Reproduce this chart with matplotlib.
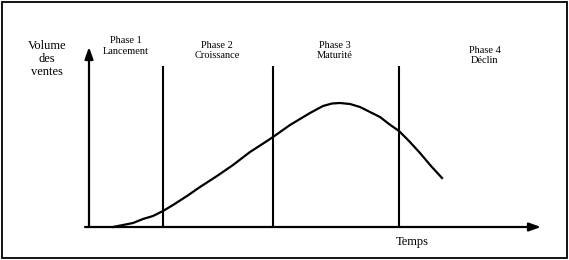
# Cycle de vie du produit : volume des ventes selon le temps
import matplotlib.pyplot as plt
from matplotlib.patches import Rectangle

plt.rcParams["font.family"] = ["Liberation Serif", "DejaVu Serif"]

# courbe des ventes (temps, volume)
temps = [24, 34, 44, 54, 64, 74, 84, 98, 111, 128, 144, 161, 178, 184, 201,
         221, 234, 243, 251, 261, 271, 281, 291, 300, 310, 320, 331, 342, 353]
ventes = [0, 2, 4, 8, 11, 16, 22, 31, 40, 51, 62, 75, 86, 90, 102,
          114, 121, 123.5, 124, 123, 120, 115, 110, 103, 96, 86, 74, 61, 49]
limites_phases = [74, 184, 310]
phases = ["Phase 1\nLancement", "Phase 2\nCroissance", "Phase 3\nMaturité", "Phase 4\nDéclin"]

fig = plt.figure(figsize=(5.69, 2.60), dpi=100)
ax = fig.add_axes([0, 0, 1, 1])
ax.set_xlim(-89, 480)
ax.set_ylim(-33, 227)
ax.axis("off")

# cadre
ax.add_patch(Rectangle((0.003, 0.006), 0.993, 0.988, transform=ax.transAxes,
                       fill=False, lw=1.3, ec="black"))

# axes fléchés
fleche = dict(arrowstyle="-|>,head_length=0.7,head_width=0.25", lw=1.6, color="black",
              shrinkA=0, shrinkB=0)
ax.annotate("", xy=(0, 180), xytext=(0, 0), arrowprops=fleche)
ax.annotate("", xy=(452, 0), xytext=(-4, 0), arrowprops=fleche)

# limites des phases
ax.vlines(limites_phases, 0, 161, colors="black", lw=1.5)

ax.plot(temps, ventes, color="black", lw=1.6)

ax.text(-42, 168, "Volume\ndes\nventes", ha="center", va="center", fontsize=9, linespacing=1.1)
ax.text(37, 181, phases[0], ha="center", va="center", fontsize=7.5, linespacing=1.15)
ax.text(128, 176.5, phases[1], ha="center", va="center", fontsize=7.5, linespacing=1.15)
ax.text(246, 176.5, phases[2], ha="center", va="center", fontsize=7.5, linespacing=1.15)
ax.text(396, 171.5, phases[3], ha="center", va="center", fontsize=7.5, linespacing=1.15)
ax.text(323, -15, "Temps", ha="center", va="center", fontsize=9)

fig.savefig("out.png", dpi=100)
